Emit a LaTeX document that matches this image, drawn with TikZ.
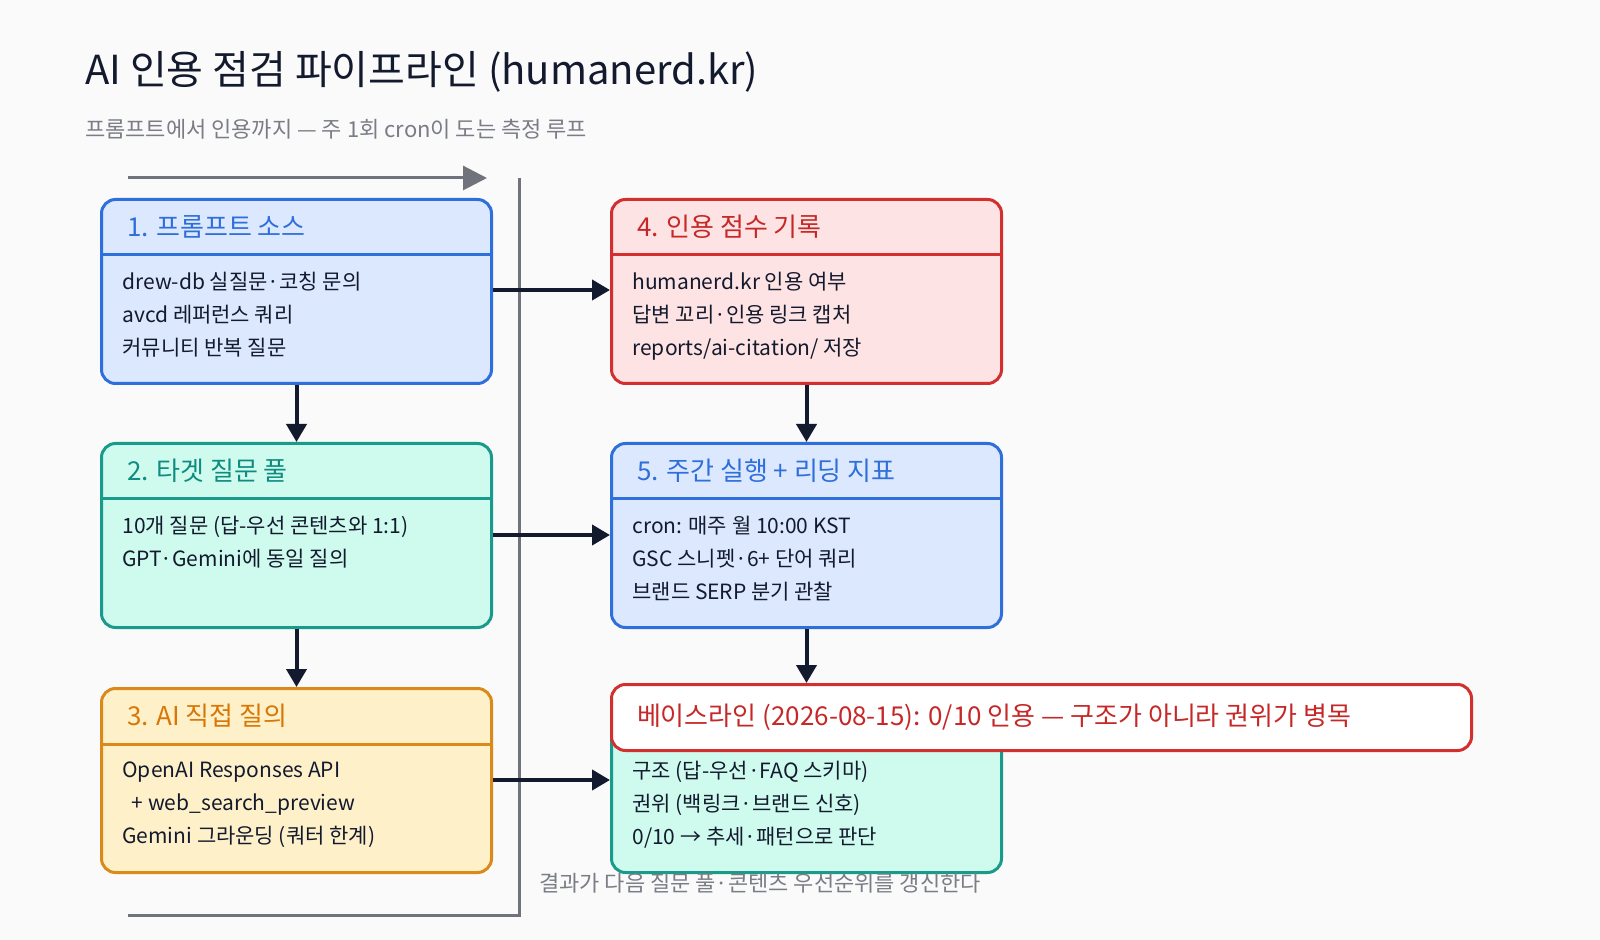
\documentclass[tikz,border=0pt]{standalone}
\usepackage{fontspec}
\setmainfont{Noto Sans CJK KR}
\usetikzlibrary{positioning, calc, arrows.meta}
\definecolor{bluel}{HTML}{2F6FDC}\definecolor{bluef}{HTML}{DCE8FD}
\definecolor{teall}{HTML}{1A9A8A}\definecolor{tealf}{HTML}{CFFBEF}\definecolor{tealt}{HTML}{0F8C7F}
\definecolor{orgl}{HTML}{D98A1A}\definecolor{orgf}{HTML}{FEF1CA}\definecolor{orgt}{HTML}{D97706}
\definecolor{redl}{HTML}{D32F2F}\definecolor{redf}{HTML}{FDE3E3}\definecolor{redt}{HTML}{C62828}
\definecolor{ink}{HTML}{141A2E}\definecolor{loopc}{HTML}{70737C}\definecolor{subc}{HTML}{7A7D85}
\definecolor{bgc}{HTML}{FAFAFA}
\tikzset{stage/.style={draw=#1, line width=1.5pt, rounded corners=7pt, minimum width=195pt, minimum height=92pt, anchor=north west, inner sep=0pt}}
\tikzset{head/.style={anchor=west, font=\fontsize{13}{15}\selectfont}}
\tikzset{body/.style={anchor=north west, align=left, font=\fontsize{10.5}{16.5}\selectfont, text=ink, inner sep=0pt}}
\tikzset{flow/.style={draw=ink, line width=2pt, -{Triangle[length=9pt,width=10pt]}}}
\newcommand{\stagebox}[8]{% name, x, y, line, fill, title colour, title, lines
  \node[stage=#4, fill=#5] (#1) at (#2,#3) {};
  \draw[#4, line width=1.5pt] ($(#1.north west)+(0,57)$) -- ($(#1.north east)+(0,57)$);
  \node[head, text=#6] (#1h) at ($(#1.north west)+(20,29)$) {#7};
  \node[body] (#1b) at ($(#1.north west)+(22,74)$) {#8};
}
\begin{document}
\begin{tikzpicture}[x=0.5pt, y=-0.5pt]
  \fill[bgc] (0,0) rectangle (1600,940);
  \useasboundingbox (0,0) rectangle (1600,940);

  \node[anchor=west, font=\fontsize{20}{24}\selectfont, text=ink] (title) at (78,72) {AI 인용 점검 파이프라인 (humanerd.kr)};
  \node[anchor=west, font=\fontsize{11}{13}\selectfont, text=subc] (sub) at (78,129) {프롬프트에서 인용까지 — 주 1회 cron이 도는 측정 루프};

  % feedback loop
  \coordinate (lt) at (128,178);
  \coordinate (la) at (487,178);
  \coordinate (lr) at (519,178);
  \coordinate (lb) at (519,915);
  \coordinate (ll) at (128,915);
  \draw[loopc, line width=1.5pt, -{Triangle[length=12pt,width=12pt]}] (lt) -- (la);
  \draw[loopc, line width=1.5pt] (lr) -- (lb) -- (ll);

  \stagebox{s1}{100}{198}{bluel}{bluef}{bluel}{1. 프롬프트 소스}{drew-db 실질문·코칭 문의\\avcd 레퍼런스 쿼리\\커뮤니티 반복 질문}
  \stagebox{s2}{100}{442}{teall}{tealf}{tealt}{2. 타겟 질문 풀}{10개 질문 (답-우선 콘텐츠와 1:1)\\GPT·Gemini에 동일 질의}
  \stagebox{s3}{100}{687}{orgl}{orgf}{orgt}{3. AI 직접 질의}{OpenAI Responses API\\\ \ + web\_search\_preview\\Gemini 그라운딩 (쿼터 한계)}
  \stagebox{s4}{610}{198}{redl}{redf}{redt}{4. 인용 점수 기록}{humanerd.kr 인용 여부\\답변 꼬리·인용 링크 캡처\\reports/ai-citation/ 저장}
  \stagebox{s5}{610}{442}{bluel}{bluef}{bluel}{5. 주간 실행 + 리딩 지표}{cron: 매주 월 10:00 KST\\GSC 스니펫·6+ 단어 쿼리\\브랜드 SERP 분기 관찰}
  \stagebox{s6}{610}{687}{teall}{tealf}{tealt}{}{구조 (답-우선·FAQ 스키마)\\권위 (백링크·브랜드 신호)\\0/10 → 추세·패턴으로 판단}

  \node[draw=redl, fill=white, line width=1.5pt, rounded corners=7pt, minimum width=430pt, minimum height=33pt, anchor=north west, inner sep=0pt] (base) at (610,683) {};
  \node[anchor=west, text=redt, font=\fontsize{13}{15}\selectfont] (baset) at ($(base.west)+(20,0)$) {베이스라인 (2026-08-15): 0/10 인용 — 구조가 아니라 권위가 병목};

  \node[anchor=center, text=subc, font=\fontsize{11}{13}\selectfont] (note) at (760,883) {결과가 다음 질문 풀·콘텐츠 우선순위를 갱신한다};

  \draw[flow] (s1) -- (s2);
  \draw[flow] (s2) -- (s3);
  \draw[flow] (s4) -- (s5);
  \draw[flow] (s5.south) -- (s5.south |- base.north);
  \draw[flow] (s1.east |- 0,290) -- (s4.west |- 0,290);
  \draw[flow] (s2.east |- 0,535) -- (s5.west |- 0,535);
  \draw[flow] (s3.east |- 0,780) -- (s6.west |- 0,780);
\end{tikzpicture}
\end{document}
